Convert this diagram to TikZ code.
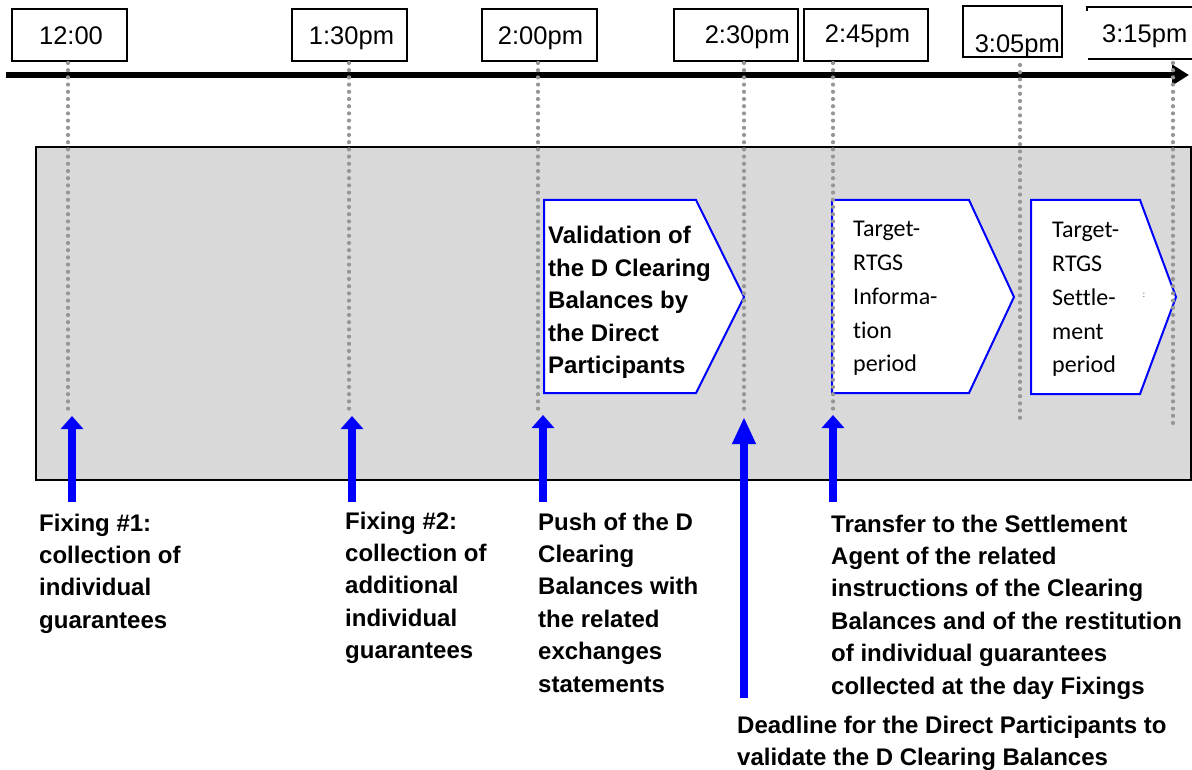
\documentclass[tikz,border=0pt]{standalone}
\usepackage{fontspec}
\setmainfont{Liberation Sans}
\newfontfamily\carlito[Ligatures=NoCommon]{Carlito}
\usetikzlibrary{arrows.meta}
\definecolor{panelgray}{RGB}{217,217,217}
\definecolor{dotgray}{RGB}{150,150,150}
\definecolor{pblue}{RGB}{0,0,255}
\newcommand{\mystack}[1]{\begin{tabular}[t]{@{}l@{}}#1\end{tabular}}
\tikzset{
  timebox/.style={draw=black, line width=1.3pt, fill=white, inner sep=0pt},
  timetxt/.style={font=\fontsize{25.5}{30}\selectfont, inner sep=0pt, anchor=base},
  lbl/.style={font=\bfseries\fontsize{24}{32.4}\selectfont, inner sep=0pt, anchor=base west},
  pent/.style={draw=pblue, line width=2pt, fill=white, line join=miter},
  ptxt/.style={font=\carlito\fontsize{24}{33.7}\selectfont, inner sep=0pt, anchor=base west},
  dotline/.style={dotgray, line width=4.2pt, line cap=round, dash pattern=on 0pt off 7.2pt},
  uparrow/.style={pblue, line width=8pt, -{Triangle[width=22pt,length=13pt]}},
  bigup/.style={pblue, line width=8pt, -{Triangle[width=22pt,length=27pt]}},
  axisline/.style={black, line width=6pt, -{Triangle[width=20pt,length=17pt]}}
}
\begin{document}
\begin{tikzpicture}[x=1pt,y=-1pt]
\useasboundingbox (0,0) rectangle (1192,770);
% panel
\draw[fill=panelgray, draw=black, line width=1.5pt] (36,147) rectangle (1191,480);
% pentagons
\draw[pent] (544,200) -- (696,200) -- (744,297) -- (696,393) -- (544,393) -- cycle;
\draw[pent] (832,200) -- (969,200) -- (1014,297) -- (969,393) -- (832,393) -- cycle;
\draw[pent] (1031,200) -- (1140,200) -- (1176,297) -- (1140,394) -- (1031,394) -- cycle;
\node[lbl] (valid) at (548,244) {\mystack{Validation of\\the D Clearing\\Balances by\\the Direct\\Participants}};
\node[ptxt] (info) at (853,237) {\mystack{Target-\\RTGS\\Informa-\\tion\\period}};
\node[ptxt] (settle) at (1052,238) {\mystack{Target-\\RTGS\\Settle-\\ment\\period}};
\node[inner sep=0pt, font=\fontsize{8}{8}\selectfont] (colon) at (1144,295) {:};
% axis
\coordinate (axS) at (6,75);
\coordinate (axE) at (1189,75);
\draw[axisline] (axS) -- (axE);
% time boxes
\node[timebox, minimum width=115pt, minimum height=52pt] (b1) at (69.5,35) {};
\node[timebox, minimum width=115pt, minimum height=52pt] (b2) at (349.5,35) {};
\node[timebox, minimum width=115pt, minimum height=52pt] (b3) at (539.5,35) {};
\node[timebox, minimum width=124pt, minimum height=52pt] (b4) at (736,35) {};
\node[timebox, minimum width=124pt, minimum height=52pt] (b5) at (866,35) {};
\node[timebox, minimum width=99pt, minimum height=51pt] (b6) at (1012.5,31.5) {};
\draw[black, line width=1.3pt] (1087,11) -- (1087,7) -- (1193,7);
\draw[black, line width=1.3pt] (1088,59) -- (1193,59);
\node[timetxt] (t1) at (71,45) {12:00};
\node[timetxt] (t2) at (351.5,45) {1:30pm};
\node[timetxt] (t3) at (540.5,45) {2:00pm};
\node[timetxt, anchor=base east] (t4) at (790,44) {2:30pm};
\node[timetxt] (t5) at (867.5,43) {2:45pm};
\node[timetxt, anchor=base east] (t6) at (1060,53) {3:05pm};
\node[timetxt, anchor=base west] (t7) at (1102,43) {3:15pm};
% dotted lines
\coordinate (d1a) at (68,63);   \coordinate (d1b) at (68,413);
\coordinate (d2a) at (349,63);  \coordinate (d2b) at (349,413);
\coordinate (d3a) at (538,63);  \coordinate (d3b) at (538,413);
\coordinate (d4a) at (744,63);  \coordinate (d4b) at (744,415);
\coordinate (d5a) at (833,63);  \coordinate (d5b) at (833,413);
\coordinate (d6a) at (1020,65); \coordinate (d6b) at (1020,423);
\coordinate (d7a) at (1173,63); \coordinate (d7b) at (1173,424);
\foreach \i in {1,...,7} {\draw[dotline] (d\i a) -- (d\i b);}
% labels
\node[lbl] (l1) at (39,531) {\mystack{Fixing \#1:\\collection of\\individual\\guarantees}};
\node[lbl] (l2) at (345,529) {\mystack{Fixing \#2:\\collection of\\additional\\individual\\guarantees}};
\node[lbl] (l3) at (538,530) {\mystack{Push of the D\\Clearing\\Balances with\\the related\\exchanges\\statements}};
\node[lbl] (l5) at (831,532) {\mystack{Transfer to the Settlement\\Agent of the related\\instructions of the Clearing\\Balances and of the restitution\\of individual guarantees\\collected at the day Fixings}};
\node[lbl] (l4) at (737,733) {\mystack{Deadline for the Direct Participants to\\validate the D Clearing Balances}};
% arrows
\coordinate (a1s) at (72,502);  \coordinate (a1e) at (72,416);
\coordinate (a2s) at (352,502); \coordinate (a2e) at (352,416);
\coordinate (a3s) at (543,502); \coordinate (a3e) at (543,415);
\coordinate (a4s) at (744,698); \coordinate (a4e) at (744,417);
\coordinate (a5s) at (833,502); \coordinate (a5e) at (833,415);
\draw[uparrow] (a1s) -- (a1e);
\draw[uparrow] (a2s) -- (a2e);
\draw[uparrow] (a3s) -- (a3e);
\draw[bigup] (a4s) -- (a4e);
\draw[uparrow] (a5s) -- (a5e);
\end{tikzpicture}
\end{document}
